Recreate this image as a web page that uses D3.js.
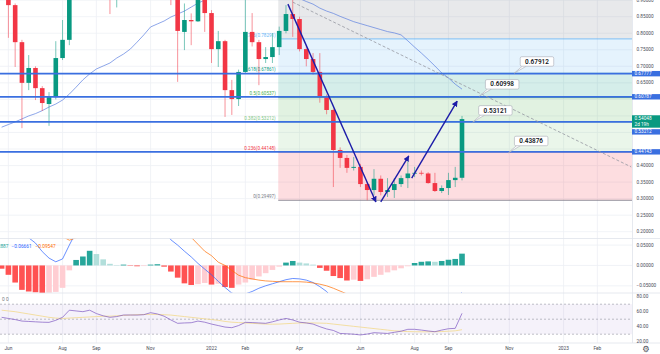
<!DOCTYPE html>
<html>
<head>
<meta charset="utf-8">
<script src="https://cdn.jsdelivr.net/npm/d3@7"></script>
<style>
  body { margin: 0; background: #fff; }
  svg { display: block; font-family: Roboto, "Noto Sans", sans-serif; }
</style>
</head>
<body>
<svg id="chart" width="660" height="354"></svg>
<script>
// weekly bars, XRP/USD
const weeks = [
  "2021-05-31","2021-06-07","2021-06-14","2021-06-21","2021-06-28","2021-07-05","2021-07-12","2021-07-19",
  "2021-07-26","2021-08-02","2021-08-09","2021-08-16","2021-08-23","2021-08-30","2021-09-06","2021-09-13",
  "2021-09-20","2021-09-27","2021-10-04","2021-10-11","2021-10-18","2021-10-25","2021-11-01","2021-11-08",
  "2021-11-15","2021-11-22","2021-11-29","2021-12-06","2021-12-13","2021-12-20","2021-12-27",
  "2022-01-03","2022-01-10","2022-01-17","2022-01-24","2022-01-31","2022-02-07","2022-02-14","2022-02-21",
  "2022-02-28","2022-03-07","2022-03-14","2022-03-21","2022-03-28","2022-04-04","2022-04-11","2022-04-18",
  "2022-04-25","2022-05-02","2022-05-09","2022-05-16","2022-05-23","2022-05-30","2022-06-06","2022-06-13",
  "2022-06-20","2022-06-27","2022-07-04","2022-07-11","2022-07-18","2022-07-25","2022-08-01","2022-08-08",
  "2022-08-15","2022-08-22","2022-08-29","2022-09-05","2022-09-12","2022-09-19"
];
const opens = [
  1.00,0.99,0.885,0.773,0.650,0.695,0.634,0.586,0.607,0.725,0.780,1.19,1.27,1.17,1.28,1.09,
  1.05,0.94,0.99,1.12,1.09,1.085,1.08,1.21,1.19,1.06,1.00,0.804,0.840,0.836,0.92,
  0.861,0.752,0.776,0.628,0.601,0.683,0.804,0.773,0.722,0.728,0.758,0.807,0.858,0.843,0.752,0.722,
  0.683,0.607,0.568,0.447,0.423,0.393,0.396,0.344,0.326,0.360,0.320,0.326,0.344,0.362,0.376,0.378,
  0.376,0.347,0.323,0.332,0.356,0.363
];
const highs = [
  1.09,1.00,0.89,0.78,0.734,0.70,0.64,0.622,0.776,0.840,1.24,1.35,1.30,1.40,1.41,1.17,
  1.07,1.00,1.14,1.22,1.14,1.13,1.25,1.35,1.20,1.10,1.04,0.89,0.86,1.00,0.95,
  0.87,0.807,0.78,0.659,0.69,0.91,0.861,0.78,0.758,0.80,0.82,0.885,0.916,0.85,0.765,0.74,
  0.74,0.615,0.572,0.455,0.432,0.426,0.405,0.35,0.389,0.37,0.362,0.362,0.37,0.426,0.396,0.385,
  0.38,0.378,0.34,0.378,0.396,0.550
];
const lows = [
  0.93,0.786,0.698,0.513,0.628,0.598,0.565,0.520,0.600,0.719,0.764,1.05,1.10,1.12,0.96,1.03,
  0.858,0.878,0.98,1.04,1.04,0.95,1.07,1.16,1.02,0.885,0.653,0.749,0.764,0.834,0.804,
  0.710,0.698,0.547,0.553,0.580,0.68,0.76,0.643,0.710,0.71,0.734,0.80,0.789,0.745,0.70,0.675,
  0.59,0.555,0.335,0.393,0.378,0.385,0.335,0.295,0.31,0.31,0.305,0.302,0.335,0.332,0.365,0.37,
  0.345,0.32,0.317,0.311,0.335,0.355
];
const closes = [
  0.99,0.885,0.773,0.650,0.695,0.634,0.589,0.607,0.725,0.780,1.19,1.27,1.17,1.28,1.09,1.05,
  0.94,0.99,1.12,1.09,1.085,1.08,1.21,1.19,1.06,1.00,0.807,0.840,0.836,0.92,0.861,
  0.752,0.776,0.628,0.601,0.683,0.804,0.773,0.722,0.728,0.758,0.807,0.858,0.843,0.752,0.722,0.683,
  0.607,0.568,0.447,0.423,0.393,0.396,0.344,0.326,0.360,0.320,0.326,0.344,0.362,0.376,0.378,0.376,
  0.347,0.323,0.332,0.356,0.363,0.54048
];
const ma50 = [
  0.516,0.524,0.532,0.541,0.550,0.557,0.566,0.577,0.586,0.598,0.616,0.637,0.659,0.677,0.692,0.701,
  0.710,0.725,0.737,0.752,0.773,0.795,0.819,0.828,0.837,0.849,0.858,0.867,0.879,0.891,0.900,
  0.910,0.918,0.925,0.930,0.934,0.937,0.939,0.940,0.939,0.936,0.931,0.924,0.915,0.905,0.896,0.888,
  0.876,0.867,0.860,0.851,0.843,0.835,0.829,0.823,0.817,0.811,0.805,0.801,0.795,0.777,0.758,0.740,
  0.721,0.701,0.680,0.665,0.646,0.631
];
const macdLine = [
  0.135,0.12,0.10,0.078,0.068,0.055,0.034,0.018,0.009,0.016,0.050,0.082,0.094,0.114,0.112,0.103,
  0.092,0.089,0.091,0.088,0.087,0.086,0.090,0.091,0.084,0.063,0.050,0.035,0.021,0.005,-0.009,
  -0.023,-0.039,-0.054,-0.068,-0.072,-0.070,-0.064,-0.056,-0.050,-0.045,-0.040,-0.035,-0.032,-0.033,-0.036,-0.042,
  -0.052,-0.064,-0.082,-0.094,-0.107,-0.113,-0.122,-0.126,-0.125,-0.124,-0.121,-0.119,-0.115,-0.110,-0.101,-0.097,
  -0.094,-0.093,-0.089,-0.084,-0.081,-0.0666
];
const signalLine = [
  0.145,0.145,0.142,0.138,0.134,0.121,0.102,0.085,0.075,0.071,0.062,0.068,0.072,0.078,0.084,0.088,
  0.088,0.088,0.089,0.089,0.089,0.088,0.088,0.088,0.087,0.080,0.076,0.074,0.069,0.052,0.035,
  0.024,0.008,0.000,-0.012,-0.024,-0.030,-0.033,-0.036,-0.038,-0.039,-0.040,-0.040,-0.040,-0.040,-0.041,-0.043,
  -0.046,-0.050,-0.056,-0.063,-0.070,-0.078,-0.085,-0.092,-0.097,-0.101,-0.104,-0.107,-0.108,-0.108,-0.107,-0.106,
  -0.104,-0.102,-0.100,-0.098,-0.097,-0.0955
];
const macdHist = [
  -0.008,-0.023,-0.042,-0.060,-0.064,-0.066,-0.068,-0.067,-0.065,-0.055,-0.012,0.0135,0.022,0.036,0.028,0.015,
  0.004,0.001,0.002,-0.001,-0.002,-0.0015,0.002,0.003,-0.003,-0.015,-0.030,-0.044,-0.048,-0.046,-0.043,
  -0.047,-0.045,-0.053,-0.055,-0.047,-0.042,-0.035,-0.027,-0.019,-0.011,-0.003,0.007,0.011,0.007,0.005,0.002,
  -0.006,-0.013,-0.026,-0.031,-0.037,-0.035,-0.038,-0.034,-0.028,-0.023,-0.017,-0.012,-0.007,-0.002,0.006,0.009,
  0.010,0.009,0.011,0.014,0.016,0.029
];
const rsi = [
  52.5,51,49.5,47.5,47,46.5,46,45.8,48.5,52.5,62,61,60,62,57.5,54.5,
  52.5,53.5,55.6,55.6,55.5,56,58.7,57,54,49,44.5,45,45.3,47.5,46,
  43.5,41.5,39.5,38.7,41.5,45.8,45.5,45,44.5,46.5,49,51,49,46,45,43.5,
  40,37,35,31,30.5,30,29,30.2,32,31.5,31,32.5,34,36.5,36.5,35.5,
  34.3,33.3,35.5,37.3,37.8,57.8
];
const rsiMa = [
  62,61,60,58.5,57,55.5,54,52.5,51.5,51,51.5,52,52.5,53,53.5,54,
  54,54.5,55,55.5,56,56.3,56.5,56.3,56,55.5,54.5,53.5,52.5,51.5,50.5,
  49.5,48.5,47,46,45.5,45,44.5,44,43.5,43.3,43.5,44,44.5,45,45,45,
  44.8,44.5,43.5,42.5,41.5,40.5,39.5,38.5,37.5,36.5,35.5,34.5,34,33.5,33.3,33.2,
  33.2,33.3,33.5,34,34.5,36
];

const tickDates = ["2021-06-07","2021-08-02","2021-09-06","2021-11-01","2022-01-03","2022-02-07","2022-04-04",
                   "2022-06-06","2022-08-01","2022-09-05","2022-11-07","2023-01-02","2023-02-06"];
const tickLabels = ["Jun","Aug","Sep","Nov","2022","Feb","Apr","Jun","Aug","Sep","Nov","2023","Feb"];
const priceTicks = [0.20,0.25,0.30,0.35,0.40,0.45,0.50,0.55,0.60,0.65,0.70,0.75,0.80,0.85,0.90];
const macdTicks = [-0.05,0,0.05];
const rsiTicks = [20,40,60,80];

// fib retracement drawn from the March high to the June low
const fibStart = "2022-03-13";
const fibLevels = [0,0.236,0.382,0.5,0.618,0.786,1];
const fibPrices = [0.29497,0.44148,0.53212,0.60537,0.67861,0.78291,0.91576];
const fibColors = ["#787b86","#f23645","#81c784","#4caf50","#089981","#64b5f6","#787b86"];

// user drawings
const hLevels = [0.67777,0.60787,0.53212,0.44143];
const lastPrice = 0.54048;
const countdown = "2d 19h";
const arrows = [
  {from: ["2022-03-23",0.888], to: ["2022-06-22",0.290]},
  {from: ["2022-06-27",0.290], to: ["2022-07-26",0.429]},
  {from: ["2022-07-29",0.362], to: ["2022-09-14",0.595]}
];
const trendLine = [["2022-03-28",0.894],["2023-03-13",0.3957]];
const callouts = [
  {date: "2022-11-12", price: 0.67912},
  {date: "2022-10-07", price: 0.60998},
  {date: "2022-09-30", price: 0.53121},
  {date: "2022-11-06", price: 0.43876}
];
const macdLegend = [0.02887,-0.06661,-0.09547];

const W = 632;
const mainBot = 238.5, macdBot = 293, rsiBot = 343;
const upCol = "#089981", downCol = "#f23645", lineBlue = "#3a6fe0", gridCol = "#eef0f5", axisText = "#4a4d57";

const parse = d3.utcParse("%Y-%m-%d");
const dates = weeks.map(parse);
const bars = dates.map((d, i) => ({date: d, o: opens[i], h: highs[i], l: lows[i], c: closes[i],
  ma: ma50[i], macd: macdLine[i], sig: signalLine[i], hist: macdHist[i], rsi: rsi[i], rsiMa: rsiMa[i]}));

const x = d3.scaleUtc().domain([parse("2021-06-07"), parse("2022-09-19")]).range([8.4, 462]);
const y = d3.scaleLinear().domain([0.20, 0.85]).range([231.7, 16.7]);
const ym = d3.scaleLinear().domain([-0.05, 0.05]).range([285.8, 245.1]);
const yr = d3.scaleLinear().domain([20, 80]).range([341.7, 296.7]);

const fmt5 = d3.format(".5f"), fmt2 = d3.format(".2f");

const svg = d3.select("#chart");
const defs = svg.append("defs");
[["clipMain",0,mainBot],["clipMacd",mainBot,macdBot],["clipRsi",macdBot,rsiBot]].forEach(([id,t,b]) => {
  defs.append("clipPath").attr("id", id).append("rect").attr("x", 0).attr("y", t).attr("width", W).attr("height", b - t);
});
defs.append("marker").attr("id", "head").attr("viewBox", "0 0 10 10").attr("refX", 9).attr("refY", 5)
  .attr("markerWidth", 6).attr("markerHeight", 6).attr("markerUnits", "userSpaceOnUse").attr("orient", "auto")
  .append("path").attr("d", "M0,0L10,5L0,10z").attr("fill", "#1c1ca8");

// grid
const grid = svg.append("g");
grid.selectAll(".vg").data(tickDates).join("line")
  .attr("x1", d => x(parse(d))).attr("x2", d => x(parse(d))).attr("y1", 0).attr("y2", rsiBot)
  .attr("stroke", gridCol).attr("stroke-width", 0.8);
grid.append("g").attr("clip-path", "url(#clipMain)").selectAll("line").data(priceTicks).join("line")
  .attr("x1", 0).attr("x2", W).attr("y1", d => y(d)).attr("y2", d => y(d)).attr("stroke", gridCol).attr("stroke-width", 0.8);
grid.selectAll(".mg").data(macdTicks).join("line")
  .attr("x1", 0).attr("x2", W).attr("y1", d => ym(d)).attr("y2", d => ym(d)).attr("stroke", gridCol).attr("stroke-width", 0.8);

// main pane
const main = svg.append("g").attr("clip-path", "url(#clipMain)");
const fx = x(parse(fibStart));
for (let i = 0; i < fibPrices.length - 1; i++) {
  main.append("rect").attr("x", fx).attr("width", W - fx)
    .attr("y", y(fibPrices[i + 1])).attr("height", y(fibPrices[i]) - y(fibPrices[i + 1]))
    .attr("fill", fibColors[i + 1]).attr("fill-opacity", 0.17);
}
main.selectAll(".fl").data(fibPrices).join("line")
  .attr("x1", fx).attr("x2", W).attr("y1", d => y(d)).attr("y2", d => y(d))
  .attr("stroke", (d, i) => fibColors[i]).attr("stroke-width", 0.8);
// labels only for the levels inside the pane
main.selectAll(".ft").data(fibPrices.map((p, i) => ({p, i})).filter(d => y(d.p) > 8)).join("text")
  .attr("x", fx - 2.5).attr("y", d => y(d.p) - 2.2).attr("text-anchor", "end")
  .attr("font-size", 4.6).attr("fill", d => fibColors[d.i])
  .text(d => `${fibLevels[d.i]}(${fmt5(d.p)})`);

main.append("path").datum(bars)
  .attr("d", d3.line().x(d => x(d.date)).y(d => y(d.ma)))
  .attr("fill", "none").attr("stroke", "#5b7fe0").attr("stroke-width", 0.7);

const candle = main.selectAll(".candle").data(bars).join("g");
candle.append("line")
  .attr("x1", d => x(d.date)).attr("x2", d => x(d.date)).attr("y1", d => y(d.h)).attr("y2", d => y(d.l))
  .attr("stroke", d => d.c >= d.o ? upCol : downCol).attr("stroke-width", 0.9).attr("stroke-opacity", 0.6);
candle.append("rect")
  .attr("x", d => x(d.date) - 2.3).attr("width", 4.6)
  .attr("y", d => y(Math.max(d.o, d.c))).attr("height", d => Math.max(0.8, Math.abs(y(d.o) - y(d.c))))
  .attr("fill", d => d.c >= d.o ? upCol : downCol);

main.selectAll(".hl").data(hLevels).join("line")
  .attr("x1", 0).attr("x2", W).attr("y1", d => y(d)).attr("y2", d => y(d))
  .attr("stroke", lineBlue).attr("stroke-width", 1.8);

main.append("line")
  .attr("x1", x(parse(trendLine[0][0]))).attr("y1", y(trendLine[0][1]))
  .attr("x2", x(parse(trendLine[1][0]))).attr("y2", y(trendLine[1][1]))
  .attr("stroke", "#9598a1").attr("stroke-width", 0.8).attr("stroke-dasharray", "3,2");

main.selectAll(".arrow").data(arrows).join("line")
  .attr("x1", d => x(parse(d.from[0]))).attr("y1", d => y(d.from[1]))
  .attr("x2", d => x(parse(d.to[0]))).attr("y2", d => y(d.to[1]))
  .attr("stroke", "#1c1ca8").attr("stroke-width", 1.4).attr("marker-end", "url(#head)");

// price callouts
const co = main.selectAll(".callout").data(callouts).join("g");
co.append("path")
  .attr("d", d => {
    const px = x(parse(d.date)), py = y(d.price), bx = px + 6, by = py - 7;
    return `M${bx + 2},${by}L${px},${py}L${bx + 6},${by}`;
  })
  .attr("fill", "#fff").attr("stroke", "#a8abb5").attr("stroke-width", 0.6);
co.append("rect")
  .attr("x", d => x(parse(d.date)) + 6).attr("y", d => y(d.price) - 16.5)
  .attr("width", 33.5).attr("height", 9.5).attr("rx", 1.5)
  .attr("fill", "#fff").attr("stroke", "#a8abb5").attr("stroke-width", 0.6);
co.append("text")
  .attr("x", d => x(parse(d.date)) + 22.75).attr("y", d => y(d.price) - 9.6)
  .attr("text-anchor", "middle").attr("font-size", 6.4).attr("font-weight", 600).attr("fill", "#131722")
  .text(d => fmt5(d.price));

// MACD pane
const mp = svg.append("g").attr("clip-path", "url(#clipMacd)");
mp.selectAll("rect").data(bars).join("rect")
  .attr("x", d => x(d.date) - 2.8).attr("width", 5.6)
  .attr("y", d => ym(Math.max(0, d.hist))).attr("height", d => Math.abs(ym(d.hist) - ym(0)))
  .attr("fill", (d, i) => {
    const prev = i > 0 ? bars[i - 1].hist : Infinity;
    if (d.hist >= 0) return d.hist >= prev ? "#26a69a" : "#b2dfdb";
    return d.hist < prev ? "#ff5252" : "#ffcdd2";
  });
mp.append("path").datum(bars).attr("d", d3.line().x(d => x(d.date)).y(d => ym(d.macd)))
  .attr("fill", "none").attr("stroke", "#2962ff").attr("stroke-width", 0.7);
mp.append("path").datum(bars).attr("d", d3.line().x(d => x(d.date)).y(d => ym(d.sig)))
  .attr("fill", "none").attr("stroke", "#ff6d00").attr("stroke-width", 0.7);

// legend values (the window is cropped on the left, so the first value is cut)
svg.append("text").attr("x", 8.5).attr("y", 247.5).attr("text-anchor", "end").attr("font-size", 4.8)
  .attr("fill", "#26a69a").text(fmt5(macdLegend[0]));
svg.append("text").attr("x", 11.5).attr("y", 247.5).attr("font-size", 4.8).attr("fill", "#2962ff").text(fmt5(macdLegend[1]));
svg.append("text").attr("x", 35.5).attr("y", 247.5).attr("font-size", 4.8).attr("fill", "#ff6d00").text(fmt5(macdLegend[2]));

// RSI pane
const rp = svg.append("g").attr("clip-path", "url(#clipRsi)");
rp.append("rect").attr("x", 0).attr("width", W).attr("y", yr(70)).attr("height", yr(30) - yr(70))
  .attr("fill", "#7e57c2").attr("fill-opacity", 0.08);
rp.selectAll("line").data([70, 50, 30]).join("line")
  .attr("x1", 0).attr("x2", W).attr("y1", d => yr(d)).attr("y2", d => yr(d))
  .attr("stroke", "#9598a1").attr("stroke-width", 0.6).attr("stroke-dasharray", "2,2");
rp.append("path").datum(bars).attr("d", d3.line().x(d => x(d.date)).y(d => yr(d.rsiMa)))
  .attr("fill", "none").attr("stroke", "#f3d98c").attr("stroke-width", 0.8);
rp.append("path").datum(bars).attr("d", d3.line().x(d => x(d.date)).y(d => yr(d.rsi)))
  .attr("fill", "none").attr("stroke", "#7e57c2").attr("stroke-width", 0.7);
svg.append("text").attr("x", 2).attr("y", 301).attr("font-size", 4.8).attr("fill", "#787b86").text("0  0");

// separators
svg.selectAll(".sep").data([mainBot, macdBot, rsiBot]).join("line")
  .attr("x1", 0).attr("x2", 660).attr("y1", d => d).attr("y2", d => d)
  .attr("stroke", "#e0e3eb").attr("stroke-width", 0.8);
svg.append("line").attr("x1", W + 0.5).attr("x2", W + 0.5).attr("y1", 0).attr("y2", rsiBot)
  .attr("stroke", "#e0e3eb").attr("stroke-width", 0.8);

// price-scale markers: positions first, so the tick labels they hide can be skipped
const lpTop = y(lastPrice) - 3.8, lpH = 12.4;
const markers = hLevels.map(v => {
  let top = y(v) - 2.7;
  if (top < lpTop + lpH && top + 5.4 > lpTop) top = lpTop + lpH + 1.5;
  return {v, top, h: 5.4};
});
const covered = yy => yy > lpTop - 1 && yy < lpTop + lpH + 1 ||
  markers.some(m => yy > m.top - 0.5 && yy < m.top + m.h + 0.5);

// right axis
const ax = svg.append("g").attr("font-size", 4.7).attr("fill", axisText);
ax.selectAll(".pt").data(priceTicks.filter(d => !covered(y(d)))).join("text")
  .attr("x", 636.5).attr("y", d => y(d) + 1.6).text(d => fmt5(d));
ax.selectAll(".mt").data(macdTicks).join("text")
  .attr("x", 636.5).attr("y", d => ym(d) + 1.6).text(d => fmt5(d));
ax.selectAll(".rt").data(rsiTicks).join("text")
  .attr("x", 636.5).attr("y", d => yr(d) + 1.6).text(d => fmt2(d));

const boxes = svg.append("g").attr("font-size", 4.7);
const mk = boxes.selectAll(".mk").data(markers).join("g");
mk.append("rect").attr("x", W).attr("y", d => d.top).attr("width", 28).attr("height", d => d.h).attr("fill", lineBlue);
mk.append("text").attr("x", 634.5).attr("y", d => d.top + 4.2).attr("fill", "#fff").text(d => fmt5(d.v));
boxes.append("rect").attr("x", W).attr("y", lpTop).attr("width", 28).attr("height", lpH).attr("fill", upCol);
boxes.append("text").attr("x", 634.5).attr("y", lpTop + 4.6).attr("fill", "#fff").text(fmt5(lastPrice));
boxes.append("text").attr("x", 634.5).attr("y", lpTop + 10.3).attr("fill", "#fff").text(countdown);

// time axis
svg.append("g").selectAll("text").data(tickDates).join("text")
  .attr("x", d => x(parse(d))).attr("y", 349.5).attr("text-anchor", "middle")
  .attr("font-size", 4.8).attr("fill", axisText)
  .text((d, i) => tickLabels[i]);
svg.append("text").attr("x", 646).attr("y", 351.8).attr("text-anchor", "middle")
  .attr("font-size", 8.5).attr("fill", "#4a4d57").attr("font-family", "DejaVu Sans").text("\u2699");
</script>
</body>
</html>
